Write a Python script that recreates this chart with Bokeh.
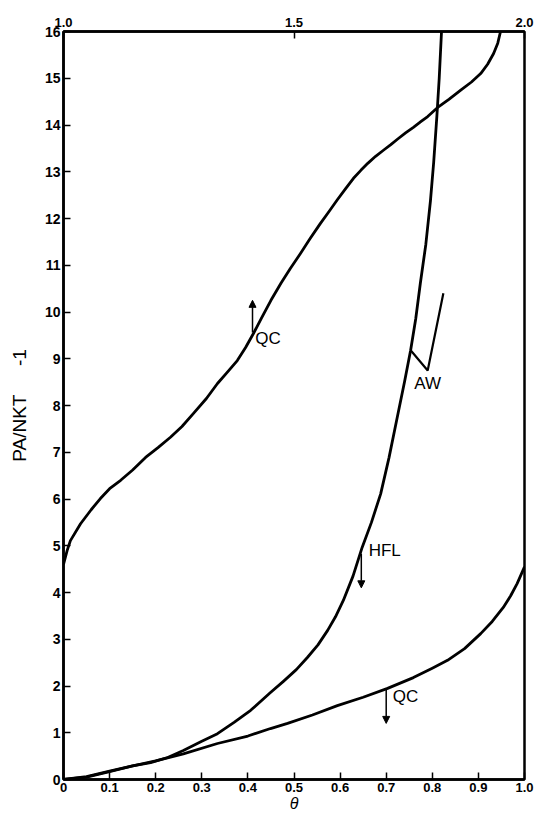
from bokeh.plotting import figure
from bokeh.models import Range1d, LinearAxis, FixedTicker, Arrow, NormalHead, ColumnDataSource
from bokeh.core.properties import value
from bokeh.embed import file_html
from bokeh.resources import INLINE

# ---- data ----
qc_upper_theta = [0.000, 0.008, 0.015, 0.037, 0.060, 0.080, 0.100, 0.124, 0.150, 0.178, 0.205,
                  0.232, 0.257, 0.282, 0.310, 0.334, 0.356, 0.377, 0.395, 0.412, 0.430, 0.450,
                  0.472, 0.492, 0.514, 0.535, 0.557, 0.576, 0.594, 0.612, 0.629, 0.645, 0.660,
                  0.677, 0.694, 0.710, 0.725, 0.742, 0.759, 0.775, 0.790, 0.811, 0.836, 0.861,
                  0.885, 0.905, 0.920, 0.933, 0.942, 0.948]
qc_upper_y = [4.60, 4.90, 5.11, 5.47, 5.77, 6.01, 6.22, 6.40, 6.62, 6.89, 7.10,
              7.32, 7.55, 7.83, 8.15, 8.47, 8.72, 8.96, 9.24, 9.54, 9.88, 10.25,
              10.62, 10.93, 11.25, 11.57, 11.89, 12.15, 12.40, 12.64, 12.86, 13.03, 13.18,
              13.33, 13.46, 13.58, 13.70, 13.83, 13.95, 14.07, 14.18, 14.37, 14.55, 14.74,
              14.92, 15.10, 15.30, 15.53, 15.75, 16.00]

hfl_theta = [0.000, 0.050, 0.100, 0.150, 0.189, 0.226, 0.260, 0.300, 0.334, 0.370, 0.406,
             0.449, 0.477, 0.505, 0.529, 0.552, 0.573, 0.590, 0.607, 0.628, 0.648, 0.668,
             0.688, 0.706, 0.724, 0.740, 0.753, 0.764, 0.774, 0.786, 0.796, 0.803, 0.810,
             0.815, 0.820]
hfl_y = [0.00, 0.05, 0.17, 0.29, 0.36, 0.47, 0.62, 0.82, 0.98, 1.22, 1.48,
         1.86, 2.10, 2.35, 2.61, 2.88, 3.19, 3.48, 3.83, 4.35, 4.97, 5.50,
         6.11, 6.88, 7.75, 8.52, 9.18, 9.85, 10.61, 11.45, 12.38, 13.20, 14.20,
         15.00, 16.00]

qc_lower_theta = [0.000, 0.050, 0.100, 0.150, 0.200, 0.260, 0.334, 0.400, 0.449, 0.486, 0.540,
                  0.594, 0.650, 0.703, 0.759, 0.800, 0.833, 0.870, 0.905, 0.930, 0.954, 0.970,
                  0.984, 1.000]
qc_lower_y = [0.00, 0.06, 0.18, 0.29, 0.40, 0.55, 0.77, 0.93, 1.09, 1.20, 1.38,
              1.58, 1.76, 1.95, 2.18, 2.38, 2.55, 2.80, 3.12, 3.38, 3.68, 3.93,
              4.19, 4.55]

aw_theta = [0.753, 0.790, 0.824]
aw_y = [9.18, 8.75, 10.40]

# arrows: x, y_start, y_end
arrow_x = [0.410, 0.646, 0.700]
arrow_y0 = [9.56, 4.83, 1.95]
arrow_y1 = [10.25, 4.10, 1.20]

# labels
label_text = ["QC", "HFL", "AW", "QC"]
label_x = [0.416, 0.662, 0.761, 0.714]
label_y = [9.43, 4.90, 8.47, 1.78]

x_ticks = [0.0, 0.1, 0.2, 0.3, 0.4, 0.5, 0.6, 0.7, 0.8, 0.9, 1.0]
y_ticks = list(range(0, 17))
top_ticks = [1.0, 1.5, 2.0]

FONT = "Liberation Sans"

p = figure(width=537, height=815, output_backend="svg", toolbar_location=None,
           x_range=Range1d(0, 1), y_range=Range1d(0, 16),
           min_border_left=63, min_border_right=13, min_border_top=31, min_border_bottom=36)
p.background_fill_color = "white"
p.border_fill_color = "white"
p.xgrid.visible = False
p.ygrid.visible = False
p.outline_line_color = "black"
p.outline_line_width = 2.5

p.extra_x_ranges = {"top": Range1d(1.0, 2.0)}

for ax in (p.xaxis[0], p.yaxis[0]):
    ax.axis_line_color = "black"
    ax.axis_line_width = 2.5
    ax.major_tick_in = 7
    ax.major_tick_out = 0
    ax.major_tick_line_width = 1.5
    ax.minor_tick_line_color = None
    ax.major_label_text_font = FONT
    ax.major_label_text_font_style = "bold"
    ax.major_label_text_font_size = "13px"
    ax.major_label_text_color = "black"
    ax.axis_label_text_font = FONT
    ax.axis_label_text_color = "black"

p.xaxis[0].ticker = FixedTicker(ticks=x_ticks)
p.xaxis[0].major_label_overrides = {0: "0", 1: "1.0"}
p.xaxis[0].major_label_standoff = 3
p.xaxis[0].axis_label = "θ"
p.xaxis[0].axis_label_text_font_style = "italic"
p.xaxis[0].axis_label_text_font_size = "16px"
p.xaxis[0].axis_label_standoff = 0

p.yaxis[0].ticker = FixedTicker(ticks=y_ticks)
p.yaxis[0].major_label_standoff = 3
p.yaxis[0].major_label_text_font_size = "14px"
p.yaxis[0].axis_label = "PA/NKT\u2003\u2002-1"
p.yaxis[0].axis_label_text_font_style = "normal"
p.yaxis[0].axis_label_text_font_size = "19px"
p.yaxis[0].axis_label_standoff = 12

top = LinearAxis(x_range_name="top", ticker=FixedTicker(ticks=top_ticks))
top.major_label_overrides = {1: "1.0", 1.5: "1.5", 2: "2.0"}
top.axis_line_color = "black"
top.axis_line_width = 2.5
top.major_tick_in = 7
top.major_tick_out = 0
top.major_tick_line_width = 1.5
top.minor_tick_line_color = None
top.major_label_text_font = FONT
top.major_label_text_font_style = "bold"
top.major_label_text_font_size = "13px"
top.major_label_text_color = "black"
top.major_label_standoff = 5
p.add_layout(top, "above")

LW = 2.8
p.line(qc_upper_theta, qc_upper_y, line_color="black", line_width=LW, line_join="round")
p.line(hfl_theta, hfl_y, line_color="black", line_width=LW, line_join="round")
p.line(qc_lower_theta, qc_lower_y, line_color="black", line_width=LW, line_join="round")
p.line(aw_theta, aw_y, line_color="black", line_width=2.2)

for x, y0, y1 in zip(arrow_x, arrow_y0, arrow_y1):
    p.add_layout(Arrow(end=NormalHead(size=7, fill_color="black", line_color="black"),
                       x_start=x, y_start=y0, x_end=x, y_end=y1,
                       line_color="black", line_width=1.5))

src = ColumnDataSource(dict(x=label_x, y=label_y, t=label_text))
p.text(x="x", y="y", text="t", source=src, text_font=value(FONT),
       text_font_size="17px", text_baseline="middle", text_align="left", text_color="black")

open("out.html", "w").write(file_html(p, INLINE))
